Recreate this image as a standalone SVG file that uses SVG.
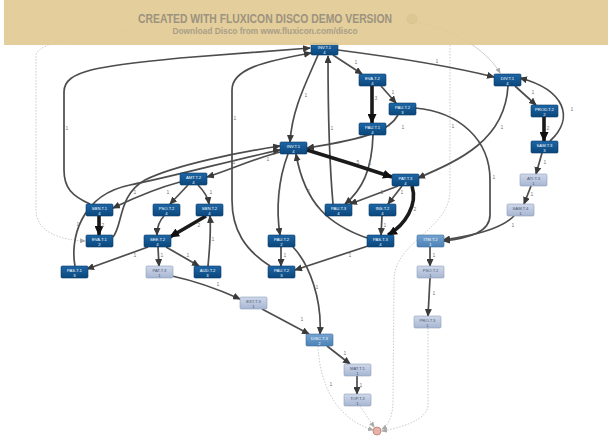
<svg xmlns="http://www.w3.org/2000/svg" width="608" height="436" viewBox="0 0 608 436">
<defs>
<linearGradient id="gd" x1="0" y1="0" x2="0" y2="1"><stop offset="0" stop-color="#1d66a6"/><stop offset="1" stop-color="#0b477c"/></linearGradient>
<linearGradient id="gm" x1="0" y1="0" x2="0" y2="1"><stop offset="0" stop-color="#74a3d0"/><stop offset="1" stop-color="#4d82b6"/></linearGradient>
<linearGradient id="gl" x1="0" y1="0" x2="0" y2="1"><stop offset="0" stop-color="#cfd8ea"/><stop offset="1" stop-color="#a7b6d2"/></linearGradient>
<marker id="a" markerUnits="userSpaceOnUse" markerWidth="8" markerHeight="7" refX="7" refY="3.5" orient="auto"><path d="M0,0 L8,3.5 L0,7 z" fill="#3a3a3a"/></marker>
<marker id="b" markerUnits="userSpaceOnUse" markerWidth="10" markerHeight="9" refX="9" refY="4.5" orient="auto"><path d="M0,0 L10,4.5 L0,9 z" fill="#111"/></marker>
<marker id="c" markerUnits="userSpaceOnUse" markerWidth="6" markerHeight="5" refX="5" refY="2.5" orient="auto"><path d="M0,0 L6,2.5 L0,5 z" fill="#aaa"/></marker>
</defs>
<style>
.e{fill:none;stroke:#4d4d4d;stroke-width:1.7;marker-end:url(#a)}
.t{fill:none;stroke:#1a1a1a;stroke-width:3.6;marker-end:url(#b)}
.d{fill:none;stroke:#bdbdbd;stroke-width:0.8;stroke-dasharray:1.5 1.5;marker-end:url(#c)}
.s{fill:none;stroke:#c8c8c8;stroke-width:0.9;marker-end:url(#c)}
.l{font-family:"Liberation Sans",Arial,sans-serif;font-size:5px;fill:#777;text-anchor:middle}
.nd rect{fill:url(#gd);stroke:#0a3a66;stroke-width:0.6}
.nm rect{fill:url(#gm);stroke:#3f6f9f;stroke-width:0.6}
.nl rect{fill:url(#gl);stroke:#8e9dbb;stroke-width:0.6}
.nd text,.nm text{fill:#fff}
.nl text{fill:#4a5570}
text.n{font-family:"Liberation Sans",Arial,sans-serif;font-size:4.2px;text-anchor:middle}
</style>
<rect width="608" height="436" fill="#fff"/>

<g id="connectors">
<path class="d" d="M407 20 C250 20 40 28 36 55 L36 210 C36 232 60 240 85 241"/>
<path class="s" d="M416 22 C460 30 490 55 500 73"/>
<path class="d" d="M417 17 C440 20 450 30 450 45 L450 190 C450 230 395 240 394 280 L393 400 C393 420 386 427 382 429"/>
<path class="d" d="M428 328 L428 405 C428 420 400 428 382 431"/>
<path class="d" d="M318 346 C320 390 340 420 373 430"/>
<path class="d" d="M360 406 L374 427"/>

<path class="e" d="M90 204 C72 196 64 188 64 170 L64 92 C64 70 100 66 180 58 L310 48"/>
<path class="e" d="M270 266 C245 250 232 230 232 200 L232 90 C232 70 260 62 311 53"/>
<path class="e" d="M333 204 C330 170 328 120 328 56"/>
<path class="e" d="M318 55 C305 85 292 110 290 142"/>
<path class="e" d="M333 55 L362 74"/>
<path class="e" d="M338 50 C400 58 450 66 494 77"/>
<path class="t" d="M372 86 L372 123"/>
<path class="e" d="M381 86 L396 103"/>
<path class="e" d="M398 115 C390 130 370 138 307 148"/>
<path class="e" d="M415 108 C460 112 490 140 490 180 L490 215 C490 232 470 238 443 241"/>
<path class="e" d="M508 86 C505 140 460 160 418 178"/>
<path class="e" d="M515 86 L536 105"/>
<path class="t" d="M544 117 L544 141"/>
<path class="e" d="M550 141 C575 118 565 90 520 78"/>
<path class="e" d="M542 153 L536 174"/>
<path class="e" d="M531 186 L524 204"/>
<path class="e" d="M514 216 C500 230 470 236 443 240"/>
<path class="e" d="M373 135 C372 170 362 190 345 204"/>
<path class="t" d="M307 150 C340 160 365 168 392 177"/>
<path class="e" d="M398 186 L350 204"/>
<path class="e" d="M402 186 L388 204"/>
<path class="t" d="M412 186 C418 205 405 225 388 235"/>
<path class="e" d="M382 216 L381 235"/>
<path class="e" d="M367 238 C330 225 305 205 296 154"/>
<path class="e" d="M288 154 C278 180 276 210 280 235"/>
<path class="e" d="M281 247 L281 266"/>
<path class="e" d="M368 246 L295 270"/>
<path class="e" d="M293 247 C310 265 322 300 320 334"/>
<path class="e" d="M75 266 C70 240 80 195 130 185 C180 175 240 158 280 150"/>
<path class="e" d="M113 237 C123 225 118 195 145 180 C175 165 240 152 280 146"/>
<path class="e" d="M280 152 C250 160 230 170 207 177"/>
<path class="e" d="M180 182 C150 190 130 200 113 208"/>
<path class="e" d="M188 185 L170 204"/>
<path class="e" d="M198 185 C205 192 208 198 209 204"/>
<path class="t" d="M99 216 L99 235"/>
<path class="e" d="M164 216 C158 222 157 228 157 235"/>
<path class="t" d="M206 216 L170 237"/>
<path class="e" d="M148 247 L87 269"/>
<path class="e" d="M158 247 L159 266"/>
<path class="e" d="M166 247 L199 266"/>
<path class="e" d="M208 266 C210 245 211 230 210 216"/>
<path class="e" d="M172 276 C200 282 220 290 240 299"/>
<path class="e" d="M262 309 L309 334"/>
<path class="e" d="M327 346 L350 364"/>
<path class="e" d="M357 376 L357 394"/>
<path class="e" d="M430 247 L430 266"/>
<path class="e" d="M430 278 L428 316"/>

<text class="l" x="67" y="130">1</text>
<text class="l" x="235" y="120">1</text>
<text class="l" x="332" y="130">1</text>
<text class="l" x="306" y="97">1</text>
<text class="l" x="356" y="64">1</text>
<text class="l" x="437" y="63">1</text>
<text class="l" x="376" y="100">3</text>
<text class="l" x="393" y="94">1</text>
<text class="l" x="403" y="129">1</text>
<text class="l" x="494" y="179">1</text>
<text class="l" x="502" y="129">1</text>
<text class="l" x="533" y="94">1</text>
<text class="l" x="548" y="130">2</text>
<text class="l" x="572" y="111">1</text>
<text class="l" x="545" y="164">1</text>
<text class="l" x="532" y="196">1</text>
<text class="l" x="513" y="227">1</text>
<text class="l" x="370" y="165">1</text>
<text class="l" x="358" y="164">5</text>
<text class="l" x="382" y="194">1</text>
<text class="l" x="402" y="194">1</text>
<text class="l" x="415" y="211">2</text>
<text class="l" x="385" y="227">1</text>
<text class="l" x="309" y="193">1</text>
<text class="l" x="279" y="194">1</text>
<text class="l" x="285" y="257">1</text>
<text class="l" x="350" y="257">1</text>
<text class="l" x="317" y="289">1</text>
<text class="l" x="78" y="226">1</text>
<text class="l" x="234" y="164">1</text>
<text class="l" x="268" y="161">1</text>
<text class="l" x="135" y="194">1</text>
<text class="l" x="168" y="194">1</text>
<text class="l" x="211" y="194">1</text>
<text class="l" x="103" y="227">2</text>
<text class="l" x="199" y="227">2</text>
<text class="l" x="135" y="257">1</text>
<text class="l" x="162" y="257">1</text>
<text class="l" x="188" y="257">1</text>
<text class="l" x="213" y="241">1</text>
<text class="l" x="218" y="286">1</text>
<text class="l" x="302" y="321">1</text>
<text class="l" x="345" y="355">1</text>
<text class="l" x="361" y="387">1</text>
<text class="l" x="434" y="257">1</text>
<text class="l" x="434" y="295">1</text>
<text class="l" x="331" y="386">1</text>
<text class="l" x="453" y="128">1</text>
</g>

<g id="start"><circle cx="412" cy="19" r="5" fill="#9aa88a" stroke="#6f7d60" stroke-width="0.8"/></g>
<g id="end"><circle cx="377" cy="431" r="4" fill="#e6b3a8" stroke="#c07c70" stroke-width="0.8"/></g>

<g id="nA" class="nd"><rect x="311" y="43" width="27" height="12" rx="1.2"/><text class="n" x="324.5" y="48.5">INV.T.1</text><text class="n" x="324.5" y="53.5">4</text></g>
<g id="nB" class="nd"><rect x="359" y="74" width="27" height="12" rx="1.2"/><text class="n" x="372.5" y="79.5">EVA.T.2</text><text class="n" x="372.5" y="84.5">4</text></g>
<g id="nC" class="nd"><rect x="389" y="103" width="27" height="12" rx="1.2"/><text class="n" x="402.5" y="108.5">PAU.T.2</text><text class="n" x="402.5" y="113.5">3</text></g>
<g id="nD" class="nd"><rect x="359" y="123" width="27" height="12" rx="1.2"/><text class="n" x="372.5" y="128.5">PAU.T.1</text><text class="n" x="372.5" y="133.5">4</text></g>
<g id="nE" class="nd"><rect x="494" y="74" width="27" height="12" rx="1.2"/><text class="n" x="507.5" y="79.5">DIV.T.1</text><text class="n" x="507.5" y="84.5">4</text></g>
<g id="nF" class="nd"><rect x="531" y="105" width="27" height="12" rx="1.2"/><text class="n" x="544.5" y="110.5">PROD.T.2</text><text class="n" x="544.5" y="115.5">2</text></g>
<g id="nG" class="nd"><rect x="531" y="141" width="27" height="12" rx="1.2"/><text class="n" x="544.5" y="146.5">SAM.T.3</text><text class="n" x="544.5" y="151.5">3</text></g>
<g id="nH" class="nl"><rect x="520" y="174" width="27" height="12" rx="1.2"/><text class="n" x="533.5" y="179.5">ATI.T.3</text><text class="n" x="533.5" y="184.5">1</text></g>
<g id="nI" class="nl"><rect x="507" y="204" width="27" height="12" rx="1.2"/><text class="n" x="520.5" y="209.5">SAM.T.4</text><text class="n" x="520.5" y="214.5">1</text></g>
<g id="nJ" class="nd"><rect x="280" y="142" width="27" height="12" rx="1.2"/><text class="n" x="293.5" y="147.5">INV.T.1</text><text class="n" x="293.5" y="152.5">4</text></g>
<g id="nK" class="nd"><rect x="180" y="173" width="27" height="12" rx="1.2"/><text class="n" x="193.5" y="178.5">AMT.T.2</text><text class="n" x="193.5" y="183.5">4</text></g>
<g id="nL" class="nd"><rect x="86" y="204" width="27" height="12" rx="1.2"/><text class="n" x="99.5" y="209.5">SBN.T.1</text><text class="n" x="99.5" y="214.5">4</text></g>
<g id="nM" class="nd"><rect x="153" y="204" width="27" height="12" rx="1.2"/><text class="n" x="166.5" y="209.5">PSO.T.2</text><text class="n" x="166.5" y="214.5">4</text></g>
<g id="nN" class="nd"><rect x="196" y="204" width="27" height="12" rx="1.2"/><text class="n" x="209.5" y="209.5">SBN.T.2</text><text class="n" x="209.5" y="214.5">4</text></g>
<g id="nO" class="nd"><rect x="86" y="235" width="27" height="12" rx="1.2"/><text class="n" x="99.5" y="240.5">EVA.T.1</text><text class="n" x="99.5" y="245.5">2</text></g>
<g id="nP" class="nd"><rect x="144" y="235" width="27" height="12" rx="1.2"/><text class="n" x="157.5" y="240.5">SEE.T.2</text><text class="n" x="157.5" y="245.5">4</text></g>
<g id="nQ" class="nd"><rect x="61" y="266" width="27" height="12" rx="1.2"/><text class="n" x="74.5" y="271.5">PAS.T.1</text><text class="n" x="74.5" y="276.5">3</text></g>
<g id="nR" class="nl"><rect x="146" y="266" width="27" height="12" rx="1.2"/><text class="n" x="159.5" y="271.5">PAT.T.3</text><text class="n" x="159.5" y="276.5">1</text></g>
<g id="nS" class="nd"><rect x="194" y="266" width="27" height="12" rx="1.2"/><text class="n" x="207.5" y="271.5">AUD.T.2</text><text class="n" x="207.5" y="276.5">3</text></g>
<g id="nT" class="nd"><rect x="268" y="235" width="27" height="12" rx="1.2"/><text class="n" x="281.5" y="240.5">PAU.T.2</text><text class="n" x="281.5" y="245.5">2</text></g>
<g id="nU" class="nd"><rect x="268" y="266" width="27" height="12" rx="1.2"/><text class="n" x="281.5" y="271.5">PAU.T.2</text><text class="n" x="281.5" y="276.5">3</text></g>
<g id="nV" class="nd"><rect x="392" y="174" width="27" height="12" rx="1.2"/><text class="n" x="405.5" y="179.5">PAT.T.3</text><text class="n" x="405.5" y="184.5">4</text></g>
<g id="nW" class="nd"><rect x="325" y="204" width="27" height="12" rx="1.2"/><text class="n" x="338.5" y="209.5">PAU.T.3</text><text class="n" x="338.5" y="214.5">4</text></g>
<g id="nX" class="nd"><rect x="369" y="204" width="27" height="12" rx="1.2"/><text class="n" x="382.5" y="209.5">INS.T.2</text><text class="n" x="382.5" y="214.5">4</text></g>
<g id="nY" class="nd"><rect x="367" y="235" width="27" height="12" rx="1.2"/><text class="n" x="380.5" y="240.5">PAS.T.3</text><text class="n" x="380.5" y="245.5">4</text></g>
<g id="nZ" class="nm"><rect x="417" y="235" width="27" height="12" rx="1.2"/><text class="n" x="430.5" y="240.5">ITM.T.2</text><text class="n" x="430.5" y="245.5">1</text></g>
<g id="nAA" class="nl"><rect x="417" y="266" width="27" height="12" rx="1.2"/><text class="n" x="430.5" y="271.5">PSO.T.2</text><text class="n" x="430.5" y="276.5">1</text></g>
<g id="nAB" class="nl"><rect x="414" y="316" width="27" height="12" rx="1.2"/><text class="n" x="427.5" y="321.5">PRO.T.3</text><text class="n" x="427.5" y="326.5">1</text></g>
<g id="nAC" class="nl"><rect x="240" y="297" width="27" height="12" rx="1.2"/><text class="n" x="253.5" y="302.5">EXT.T.3</text><text class="n" x="253.5" y="307.5">1</text></g>
<g id="nAD" class="nm"><rect x="306" y="334" width="27" height="12" rx="1.2"/><text class="n" x="319.5" y="339.5">DISC.T.3</text><text class="n" x="319.5" y="344.5">2</text></g>
<g id="nAE" class="nl"><rect x="344" y="364" width="27" height="12" rx="1.2"/><text class="n" x="357.5" y="369.5">MAT.T.1</text><text class="n" x="357.5" y="374.5">1</text></g>
<g id="nAF" class="nl"><rect x="344" y="394" width="27" height="12" rx="1.2"/><text class="n" x="357.5" y="399.5">TOP.T.2</text><text class="n" x="357.5" y="404.5">1</text></g>

<g id="banner">
<rect x="4" y="0" width="604" height="45" fill="#e2ca92" fill-opacity="0.92"/>
<text x="265" y="23" font-family="Liberation Sans,Arial,sans-serif" font-size="12" font-weight="bold" fill="#9c9380" text-anchor="middle" textLength="254" lengthAdjust="spacingAndGlyphs">CREATED WITH FLUXICON DISCO DEMO VERSION</text>
<text x="265" y="34" font-family="Liberation Sans,Arial,sans-serif" font-size="9" font-weight="bold" fill="#a89e88" text-anchor="middle" textLength="185" lengthAdjust="spacingAndGlyphs">Download Disco from www.fluxicon.com/disco</text>
</g>
</svg>
